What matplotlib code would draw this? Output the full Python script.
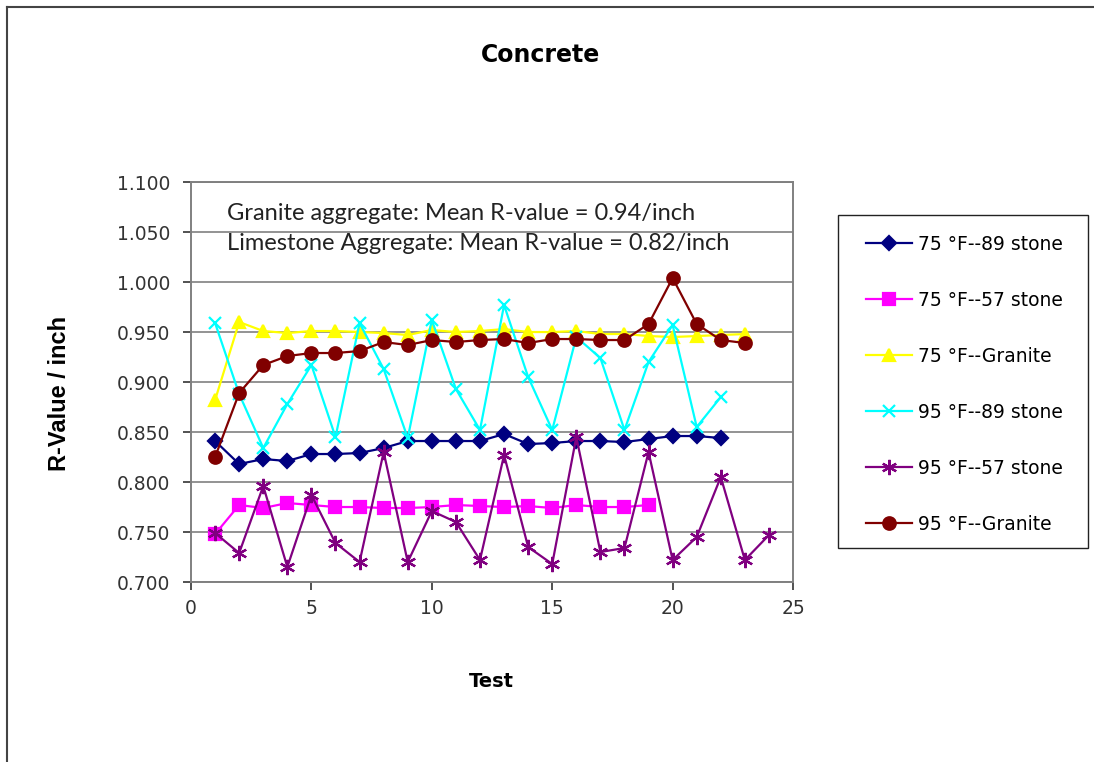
import matplotlib

matplotlib.use("Agg")
import matplotlib.pyplot as plt
from matplotlib.lines import Line2D
from matplotlib.patches import Rectangle

# R-value per inch for each test run
tests_75_89 = list(range(1, 23))
r_75_89 = [0.841, 0.818, 0.823, 0.821, 0.828, 0.828, 0.829, 0.834, 0.841, 0.841, 0.841,
           0.841, 0.848, 0.838, 0.839, 0.841, 0.841, 0.840, 0.843, 0.846, 0.846, 0.844]

tests_75_57 = list(range(1, 20))
r_75_57 = [0.748, 0.777, 0.774, 0.779, 0.777, 0.775, 0.775, 0.774, 0.774, 0.775,
           0.777, 0.776, 0.775, 0.776, 0.774, 0.777, 0.775, 0.775, 0.777]

tests_75_gr = list(range(1, 24))
r_75_gr = [0.882, 0.960, 0.951, 0.949, 0.951, 0.951, 0.950, 0.949, 0.947, 0.952, 0.950, 0.951,
           0.953, 0.950, 0.950, 0.951, 0.948, 0.948, 0.946, 0.945, 0.946, 0.947, 0.948]

tests_95_89 = list(range(1, 23))
r_95_89 = [0.959, 0.888, 0.834, 0.878, 0.917, 0.845, 0.959, 0.913, 0.844, 0.962, 0.893,
           0.852, 0.977, 0.905, 0.852, 0.945, 0.924, 0.852, 0.920, 0.957, 0.855, 0.885]

tests_95_57 = list(range(1, 25))
r_95_57 = [0.749, 0.729, 0.796, 0.715, 0.787, 0.739, 0.720, 0.830, 0.720, 0.771, 0.760, 0.722,
           0.827, 0.735, 0.718, 0.845, 0.730, 0.734, 0.830, 0.722, 0.745, 0.805, 0.722, 0.747]

tests_95_gr = list(range(1, 24))
r_95_gr = [0.825, 0.889, 0.917, 0.926, 0.929, 0.929, 0.931, 0.940, 0.937, 0.942, 0.940, 0.942,
           0.943, 0.939, 0.943, 0.943, 0.942, 0.942, 0.958, 1.004, 0.958, 0.942, 0.939]

series = [
    ("75 °F--89 stone", tests_75_89, r_75_89, "#000080", "D", 7),
    ("75 °F--57 stone", tests_75_57, r_75_57, "#FF00FF", "s", 8),
    ("75 °F--Granite", tests_75_gr, r_75_gr, "#FFFF00", "^", 9),
    ("95 °F--89 stone", tests_95_89, r_95_89, "#00FFFF", "x", 9),
    ("95 °F--57 stone", tests_95_57, r_95_57, "#800080", (6, 2, 0), 11),
    ("95 °F--Granite", tests_95_gr, r_95_gr, "#800000", "o", 9),
]

plt.rcParams["font.family"] = ["DejaVu Sans"]

fig = plt.figure(figsize=(10.94, 7.62), dpi=100)
ax = fig.add_axes([0.1746, 0.2362, 0.5503, 0.5249])

handles = []
for label, xs, ys, color, marker, ms in series:
    (line,) = ax.plot(xs, ys, color=color, lw=1.6, marker=marker, markersize=ms,
                      markerfacecolor=color, markeredgecolor=color, markeredgewidth=1.6,
                      label=label)
    handles.append(line)

ax.set_xlim(0, 25)
ax.set_ylim(0.7, 1.1)
ax.set_xticks(range(0, 26, 5))
ax.set_yticks([0.70 + 0.05 * i for i in range(9)])
ax.set_yticklabels([f"{0.70 + 0.05 * i:.3f}" for i in range(9)])
ax.tick_params(labelsize=13.5, colors="#333333", length=6, width=1.2, direction="out")
ax.tick_params(axis="y", pad=9)
ax.tick_params(axis="x", pad=6)
ax.grid(axis="y", color="#8a8a8a", lw=1.3)
ax.set_axisbelow(True)
for sp in ax.spines.values():
    sp.set_color("#808080")
    sp.set_linewidth(1.4)

note_font = ["Lato", "DejaVu Sans"]
ax.text(1.5, 1.069, "Granite aggregate: Mean R-value = 0.94/inch", fontsize=17,
        family=note_font, color="#222222", va="center")
ax.text(1.5, 1.039, "Limestone Aggregate: Mean R-value = 0.82/inch", fontsize=17,
        family=note_font, color="#222222", va="center")

fig.text(0.494, 0.928, "Concrete", fontsize=17, fontweight="bold", ha="center", va="center")
fig.text(0.449, 0.105, "Test", fontsize=14, fontweight="bold", ha="center", va="center")
fig.text(0.054, 0.4843, "R-Value / inch", fontsize=17, fontweight="bold",
         family=["Liberation Sans", "DejaVu Sans"],
         rotation=90, ha="center", va="center")

# legend box drawn separately so the entries can sit with wide side margins
fig.add_artist(Rectangle((0.766, 0.2808), 0.2285, 0.437, transform=fig.transFigure,
                         facecolor="white", edgecolor="#222222", lw=1.0))
leg = fig.legend(handles=handles, loc="upper left",
                 bbox_to_anchor=(866 / 1094, 1 - (243 - 8) / 762),
                 fontsize=13.5, labelspacing=1.97, handlelength=2.45, handletextpad=0.32,
                 borderpad=0, borderaxespad=0, frameon=False)

# outer frame on top and left edges
fig.add_artist(Line2D([0.0064, 1.0], [0.9908, 0.9908], transform=fig.transFigure,
                      color="#444444", lw=1.5))
fig.add_artist(Line2D([0.0064, 0.0064], [0.0, 0.9908], transform=fig.transFigure,
                      color="#444444", lw=1.5))

fig.savefig("out.png", dpi=100)
